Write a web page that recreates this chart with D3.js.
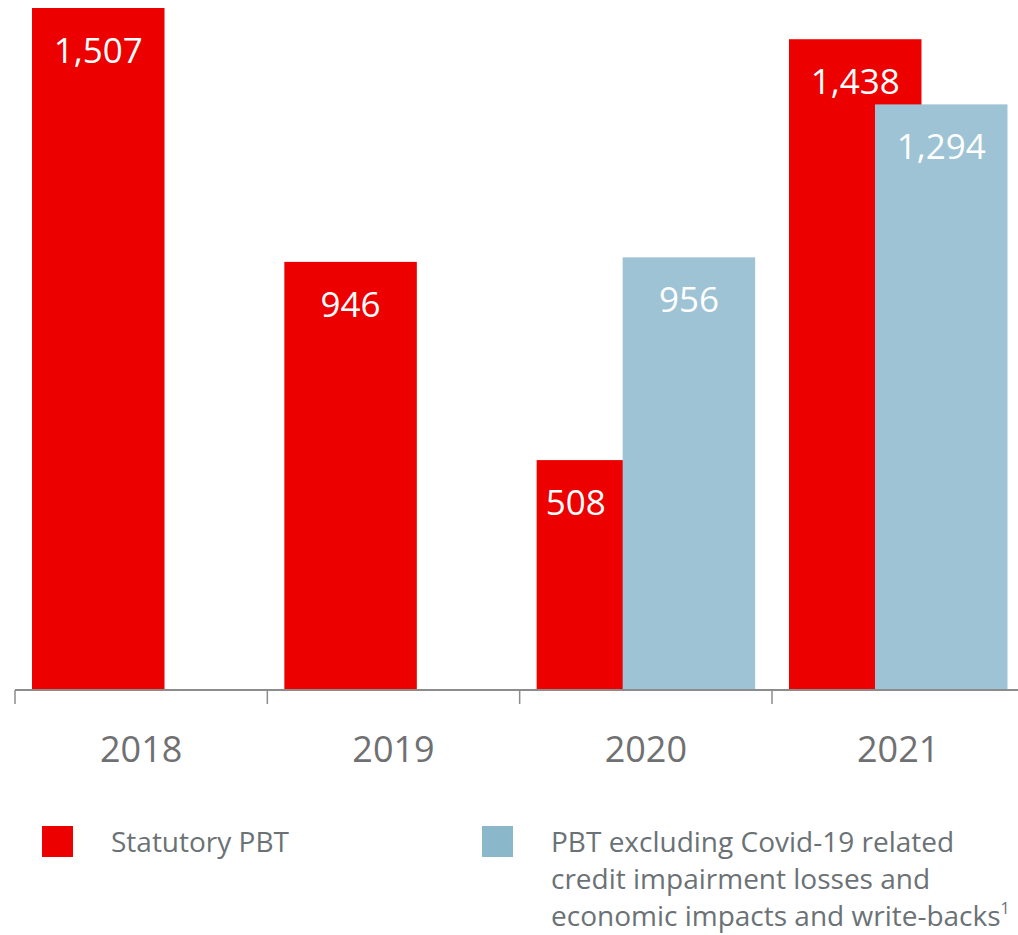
<!DOCTYPE html>
<html>
<head>
<meta charset="utf-8">
<script src="https://cdn.jsdelivr.net/npm/d3@7"></script>
<style>
  html, body { margin: 0; padding: 0; background: #fff; overflow: hidden; }
  svg { display: block; }
  text { font-family: "Open Sans", "Noto Sans", sans-serif; }
</style>
</head>
<body>
<svg id="chart" width="1018" height="935"></svg>
<script>
// ---- data ----
const years = ["2018", "2019", "2020", "2021"];
const seriesNames = ["Statutory PBT", "PBT excluding Covid-19 related credit impairment losses and economic impacts and write-backs"];
const statutoryPBT = [1507, 946, 508, 1438];
const pbtExCovid = [null, null, 956, 1294];
const valueLabels = [["1,507", "946", "508", "1,438"], [null, null, "956", "1,294"]];
const legendLines = [["Statutory PBT"], ["PBT excluding Covid-19 related", "credit impairment losses and", "economic impacts and write-backs"]];
const legendNote = ["", "1"];

const svg = d3.select("#chart");
const colors = ["#ec0000", "#9dc3d5"];
const legendColors = ["#ec0000", "#8ab8ca"];

const baseY = 690;
const x = d3.scaleBand().domain(years).range([15, 15 + 4 * 252.33]).paddingInner(0).paddingOuter(0);
const xs = d3.scaleOrdinal().domain([0, 1]).range([17, 103]);
const barW = 132.5;
const y = d3.scaleLinear().domain([0, 1507]).range([baseY, 8]);

const series = [statutoryPBT, pbtExCovid];
const allData = [];
series.forEach((vals, si) => {
  years.forEach((yr, i) => {
    if (vals[i] == null) return;
    const other = series[1 - si][i];
    // if the red bar is overlapped by a taller blue bar, centre its label in the visible part
    let cx = x(yr) + xs(si) + barW / 2;
    if (si === 0 && other != null && other > vals[i]) cx = x(yr) + (xs(0) + xs(1)) / 2 - 4;
    allData.push({ si, yr, v: vals[i], label: valueLabels[si][i], cx });
  });
});

const bars = svg.append("g");
[0, 1].forEach(si => {
  bars.append("g").selectAll("rect").data(allData.filter(d => d.si === si)).enter().append("rect")
    .attr("x", d => x(d.yr) + xs(si))
    .attr("y", d => y(d.v))
    .attr("width", barW)
    .attr("height", d => baseY - y(d.v))
    .attr("fill", colors[si]);
});
svg.append("g").selectAll("text").data(allData).enter().append("text")
  .attr("x", d => d.cx)
  .attr("y", d => y(d.v) + 55)
  .attr("text-anchor", "middle")
  .attr("fill", "#ffffff")
  .attr("font-size", 35)
  .text(d => d.label);

// axis
const axis = d3.axisBottom(x).tickSize(14).tickFormat("");
const axG = svg.append("g").attr("transform", `translate(0,${baseY})`).call(axis);
axG.select(".domain").remove();
axG.selectAll(".tick line").remove();
axG.append("line").attr("x1", 15).attr("x2", 1018 + 20).attr("y1", 0).attr("y2", 0)
  .attr("stroke", "#8c8c8c").attr("stroke-width", 2);
const tickPos = years.map(yr => x(yr)).concat([x(years[3]) + x.bandwidth()]);
axG.selectAll(".sep").data(tickPos).enter().append("line")
  .attr("x1", d => d).attr("x2", d => d).attr("y1", 0).attr("y2", 14)
  .attr("stroke", "#8c8c8c").attr("stroke-width", 1.5);
svg.append("g").selectAll("text").data(years).enter().append("text")
  .attr("x", d => x(d) + x.bandwidth() / 2)
  .attr("y", 762)
  .attr("text-anchor", "middle")
  .attr("fill", "#6f7072")
  .attr("font-size", 36)
  .text(d => d);

// legend
const legX = [42, 482];
const legTextX = [111, 551];
seriesNames.forEach((name, i) => {
  const g = svg.append("g");
  g.append("rect").attr("x", legX[i]).attr("y", 826).attr("width", 31).attr("height", 31).attr("fill", legendColors[i]);
  const t = g.append("text").attr("font-size", 28).attr("fill", "#6b7276");
  legendLines[i].forEach((line, j) => {
    t.append("tspan").attr("x", legTextX[i]).attr("y", 852 + j * 37).text(line);
  });
  if (legendNote[i]) {
    t.append("tspan").attr("font-size", 16).attr("dy", -12).text(legendNote[i]);
  }
});
</script>
</body>
</html>
